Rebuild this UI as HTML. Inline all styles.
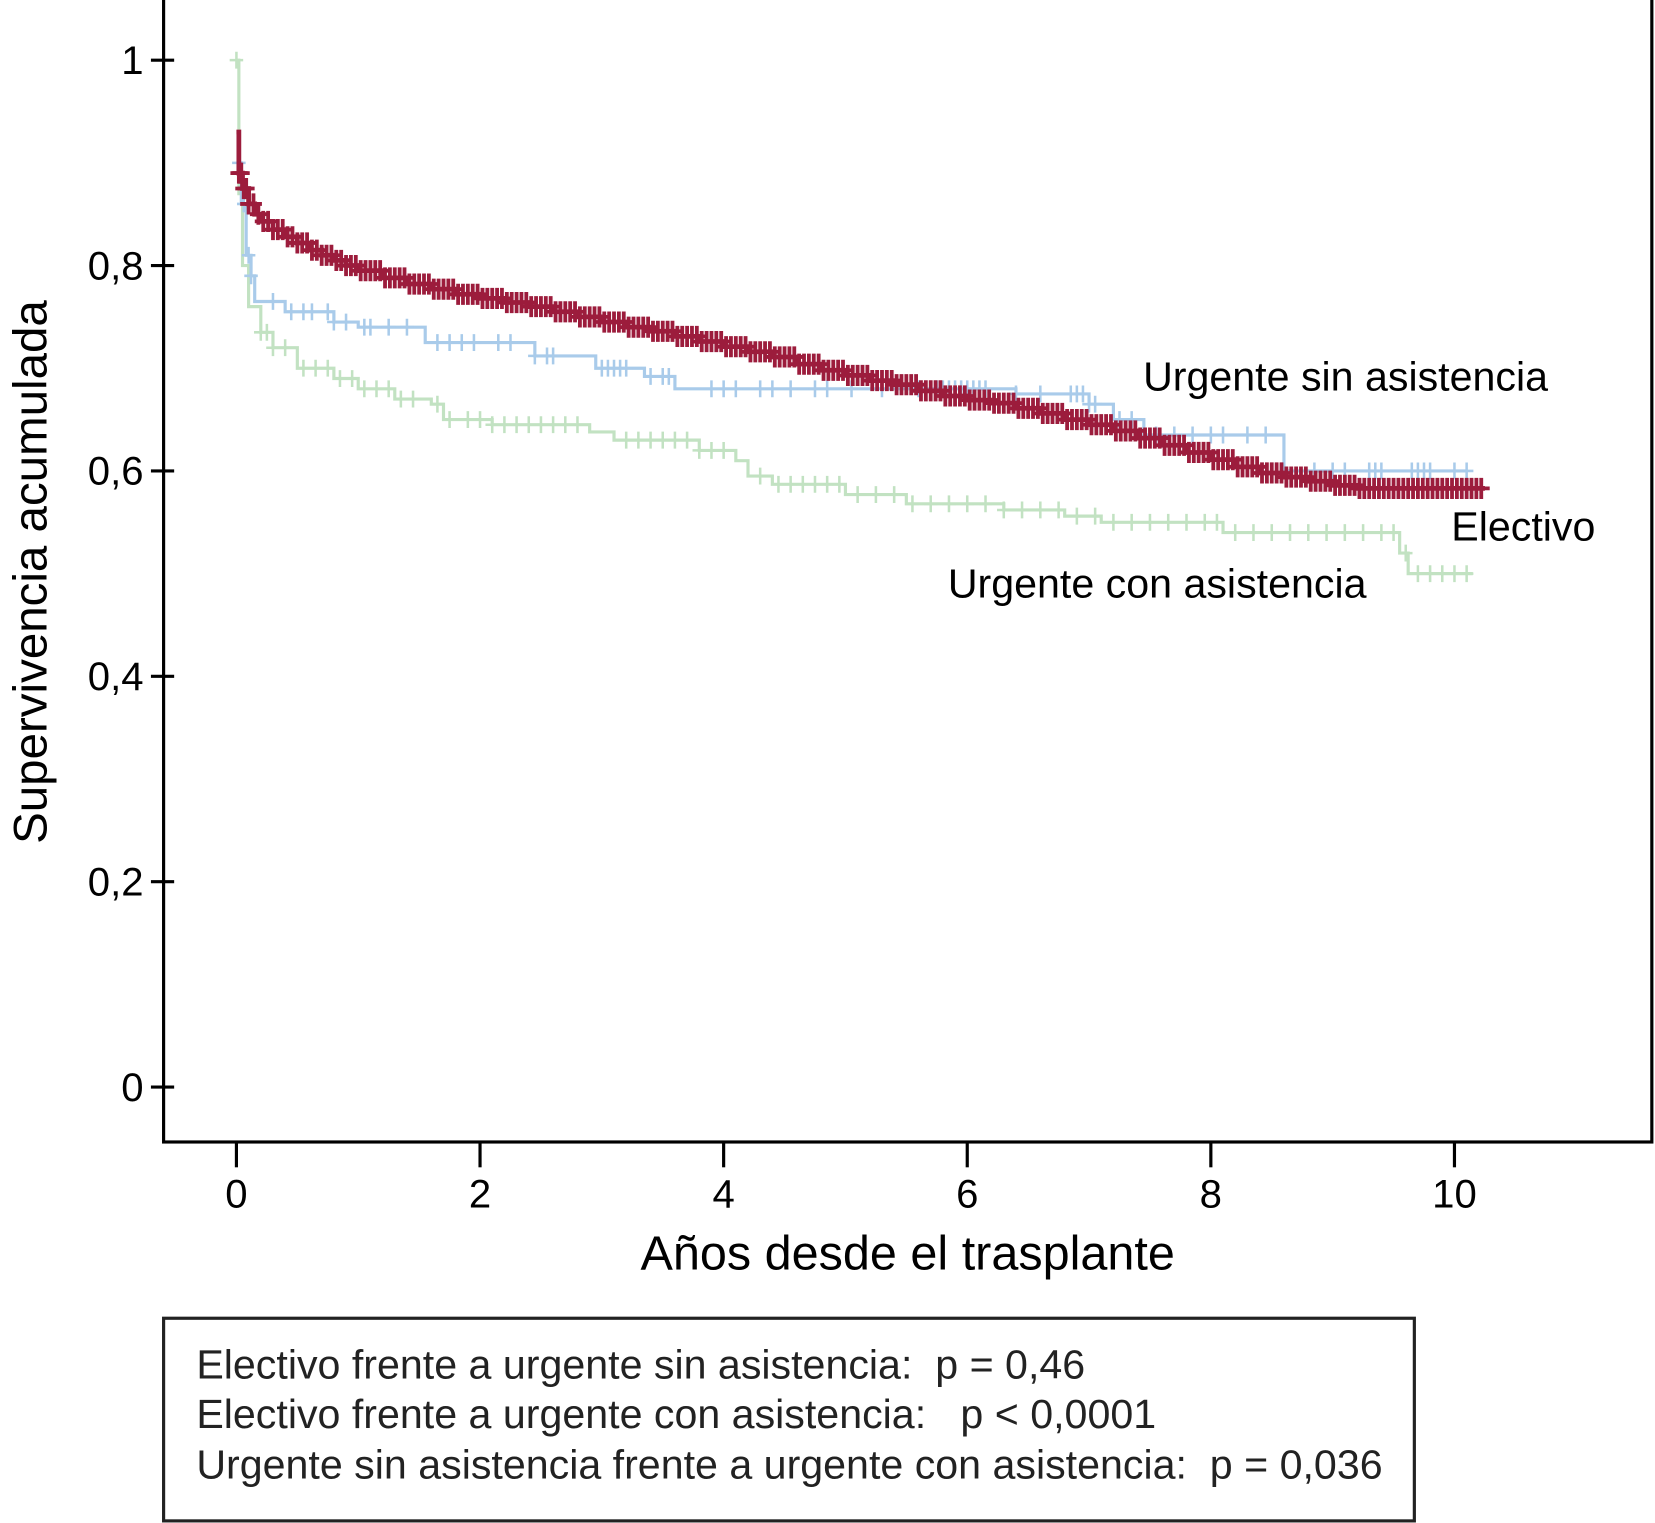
<!DOCTYPE html>
<html><head><meta charset="utf-8"><style>
html,body{margin:0;padding:0;background:#fff;}
svg{display:block;font-family:"Liberation Sans",sans-serif;}
text{white-space:pre;}
</style></head><body>
<svg id="chart" width="1655" height="1523" viewBox="0 0 1568 1443" preserveAspectRatio="none" xmlns="http://www.w3.org/2000/svg">
<rect x="0" y="0" width="1568" height="1443" fill="#fff"/>
<g id="plot"></g>
<rect x="155" y="-3" width="1410" height="1085" fill="none" stroke="#000" stroke-width="3"/>
<g id="axes"></g>
<text transform="translate(44,542) rotate(-90)" text-anchor="middle" font-size="45">Supervivencia acumulada</text>
<text x="860" y="1203" text-anchor="middle" font-size="46">Años desde el trasplante</text>
<text x="1083" y="370" font-size="39">Urgente sin asistencia</text>
<text x="1375" y="512" font-size="39">Electivo</text>
<text x="898" y="566" font-size="39">Urgente con asistencia</text>
<g>
<rect x="155" y="1249" width="1185" height="192" fill="none" stroke="#222" stroke-width="3"/>
<text x="186" y="1306" font-size="39" fill="#222">Electivo frente a urgente sin asistencia:  p = 0,46</text>
<text x="186" y="1353" font-size="39" fill="#222">Electivo frente a urgente con asistencia:   p &lt; 0,0001</text>
<text x="186" y="1401" font-size="39" fill="#222">Urgente sin asistencia frente a urgente con asistencia:  p = 0,036</text>
</g>
</svg>
<script>
const xTicks=[0,2,4,6,8,10];
const yTicks=[0,0.2,0.4,0.6,0.8,1];
const yTickLabels=["0","0,2","0,4","0,6","0,8","1"];
// Electivo step curve
const elecT=[0,0.02,0.05,0.1,0.15,0.2,0.3,0.4,0.5,0.6,0.7,0.8,0.9,1.0,1.2,1.4,1.6,1.8,2.0,2.2,2.4,2.6,2.8,3.0,3.2,3.4,3.6,3.8,4.0,4.2,4.4,4.6,4.8,5.0,5.2,5.4,5.6,5.8,6.0,6.2,6.4,6.6,6.8,7.0,7.2,7.4,7.6,7.8,8.0,8.2,8.4,8.6,8.8,9.0,9.2,10.25];
const elecS=[0.93,0.89,0.875,0.86,0.85,0.843,0.835,0.828,0.822,0.815,0.81,0.805,0.8,0.795,0.788,0.782,0.777,0.772,0.768,0.764,0.76,0.755,0.75,0.745,0.74,0.736,0.731,0.726,0.721,0.716,0.711,0.704,0.698,0.693,0.688,0.684,0.678,0.673,0.669,0.666,0.661,0.656,0.65,0.645,0.639,0.632,0.625,0.618,0.611,0.604,0.598,0.594,0.59,0.586,0.583,0.583];
const elecC=[0.02,0.03,0.04,0.06,0.08,0.1,0.14,0.18,0.22,0.26,0.3,0.34,0.38,0.42,0.46,0.5,0.54,0.58,0.62,0.66,0.7,0.74,0.78,0.82,0.86,0.9,0.94,0.98,1.02,1.06,1.1,1.14,1.18,1.22,1.26,1.3,1.34,1.38,1.42,1.46,1.5,1.54,1.58,1.62,1.66,1.7,1.74,1.78,1.82,1.86,1.9,1.94,1.98,2.02,2.06,2.1,2.14,2.18,2.22,2.26,2.3,2.34,2.38,2.42,2.46,2.5,2.54,2.58,2.62,2.66,2.7,2.74,2.78,2.82,2.86,2.9,2.94,2.98,3.02,3.06,3.1,3.14,3.18,3.22,3.26,3.3,3.34,3.38,3.42,3.46,3.5,3.54,3.58,3.62,3.66,3.7,3.74,3.78,3.82,3.86,3.9,3.94,3.98,4.02,4.06,4.1,4.14,4.18,4.22,4.26,4.3,4.34,4.38,4.42,4.46,4.5,4.54,4.58,4.62,4.66,4.7,4.74,4.78,4.82,4.86,4.9,4.94,4.98,5.02,5.06,5.1,5.14,5.18,5.22,5.26,5.3,5.34,5.38,5.42,5.46,5.5,5.54,5.58,5.62,5.66,5.7,5.74,5.78,5.82,5.86,5.9,5.94,5.98,6.02,6.06,6.1,6.14,6.18,6.22,6.26,6.3,6.34,6.38,6.42,6.46,6.5,6.54,6.58,6.62,6.66,6.7,6.74,6.78,6.82,6.86,6.9,6.94,6.98,7.02,7.06,7.1,7.14,7.18,7.22,7.26,7.3,7.34,7.38,7.42,7.46,7.5,7.54,7.58,7.62,7.66,7.7,7.74,7.78,7.82,7.86,7.9,7.94,7.98,8.02,8.06,8.1,8.14,8.18,8.22,8.26,8.3,8.34,8.38,8.42,8.46,8.5,8.54,8.58,8.62,8.66,8.7,8.74,8.78,8.82,8.86,8.9,8.94,8.98,9.02,9.06,9.1,9.14,9.18,9.22,9.26,9.3,9.34,9.38,9.42,9.46,9.5,9.54,9.58,9.62,9.66,9.7,9.74,9.78,9.82,9.86,9.9,9.94,9.98,10.02,10.06,10.1,10.14,10.18,10.22];
// Urgente sin asistencia
const usinT=[0,0.04,0.08,0.12,0.15,0.4,0.8,1.0,1.55,2.45,2.95,3.35,3.6,6.4,7.0,7.2,7.45,8.6,10.1];
const usinS=[0.9,0.86,0.81,0.79,0.765,0.755,0.745,0.74,0.725,0.712,0.7,0.692,0.68,0.675,0.665,0.65,0.635,0.6,0.6];
const usinC=[0.02,0.06,0.1,0.12,0.3,0.45,0.55,0.62,0.75,0.8,0.9,1.05,1.1,1.25,1.4,1.65,1.75,1.85,1.95,2.15,2.25,2.45,2.55,2.6,3.0,3.05,3.1,3.15,3.2,3.4,3.5,3.55,3.9,4.0,4.1,4.3,4.4,4.55,4.75,4.85,5.05,5.3,5.6,5.75,5.8,5.85,5.9,5.95,6.0,6.05,6.1,6.15,6.4,6.6,6.85,6.9,6.95,7.0,7.05,7.25,7.35,7.55,7.7,7.85,8.0,8.1,8.3,8.45,8.85,9.0,9.1,9.3,9.35,9.4,9.65,9.7,9.75,9.8,10.0,10.1];
// Urgente con asistencia
const uconT=[0,0.02,0.05,0.1,0.2,0.3,0.5,0.8,1.0,1.3,1.6,1.7,2.1,2.9,3.1,3.8,4.1,4.2,4.4,5.0,5.5,6.3,6.8,7.1,8.1,9.55,9.62,10.15];
const uconS=[1.0,0.87,0.8,0.76,0.735,0.72,0.7,0.69,0.68,0.67,0.665,0.65,0.645,0.638,0.63,0.62,0.61,0.595,0.587,0.577,0.568,0.562,0.556,0.55,0.54,0.52,0.5,0.5];
const uconC=[0,0.2,0.25,0.3,0.4,0.55,0.65,0.75,0.85,0.95,1.05,1.15,1.25,1.35,1.45,1.65,1.75,1.9,2.0,2.1,2.2,2.3,2.4,2.5,2.6,2.7,2.8,3.2,3.3,3.4,3.5,3.6,3.7,3.8,3.9,4.0,4.3,4.45,4.55,4.65,4.75,4.85,4.95,5.1,5.25,5.4,5.55,5.7,5.85,6.0,6.15,6.3,6.45,6.6,6.75,6.9,7.05,7.2,7.35,7.5,7.65,7.8,7.95,8.05,8.2,8.35,8.5,8.65,8.8,8.95,9.1,9.25,9.4,9.5,9.6,9.7,9.8,9.9,10.0,10.1];

const NS="http://www.w3.org/2000/svg";
const X=t=>224+115.4*t;
const Y=s=>1030-973*s;
function mk(tag,attrs,parent){const e=document.createElementNS(NS,tag);for(const k in attrs)e.setAttribute(k,attrs[k]);parent.appendChild(e);return e;}
const axes=document.getElementById('axes');
xTicks.forEach(v=>{
  const l=mk('line',{x1:X(v),x2:X(v),y1:1082,y2:1106,stroke:'#000','stroke-width':3},axes);
  
  
  const t=mk('text',{x:X(v),y:1144,'text-anchor':'middle','font-size':38},axes);
  
  
  t.textContent=String(v);
});
yTicks.forEach((v,i)=>{
  const l=mk('line',{x1:143,x2:165,y1:Y(v),y2:Y(v),stroke:'#000','stroke-width':3},axes);
  
  
  const t=mk('text',{x:136,y:Y(v)+13,'text-anchor':'end','font-size':38},axes);
  
  
  t.textContent=yTickLabels[i];
});
function stepAt(T,S,t){let s=S[0];for(let i=0;i<T.length;i++){if(T[i]<=t)s=S[i];}return s;}
function drawSeries(T,S,C,color,w,tick,name){
  const plot=document.getElementById('plot');
  const g=mk('g',{},plot);
  
  
  let d='M'+X(T[0])+','+Y(S[0]);
  for(let i=1;i<T.length;i++){d+=' H'+X(T[i])+' V'+Y(S[i]);}
  const p=mk('path',{d:d,fill:'none',stroke:color,'stroke-width':w},g);
  
  
  C.forEach(c=>{
    const s=stepAt(T,S,c);
    const m=mk('path',{d:'M'+X(c)+','+(Y(s)-tick)+' V'+(Y(s)+tick)+' M'+(X(c)-tick*0.8)+','+Y(s)+' H'+(X(c)+tick*0.8),stroke:color,'stroke-width':w*0.8,fill:'none'},g);
    
    
  });
}
drawSeries(uconT,uconS,uconC,'#c2e2c2',3,8,'series-urgente-con-asistencia');
drawSeries(usinT,usinS,usinC,'#a9cbea',3,8,'series-urgente-sin-asistencia');
drawSeries(elecT,elecS,elecC,'#9c1c3c',4.5,10,'series-electivo');
</script>
</body></html>
